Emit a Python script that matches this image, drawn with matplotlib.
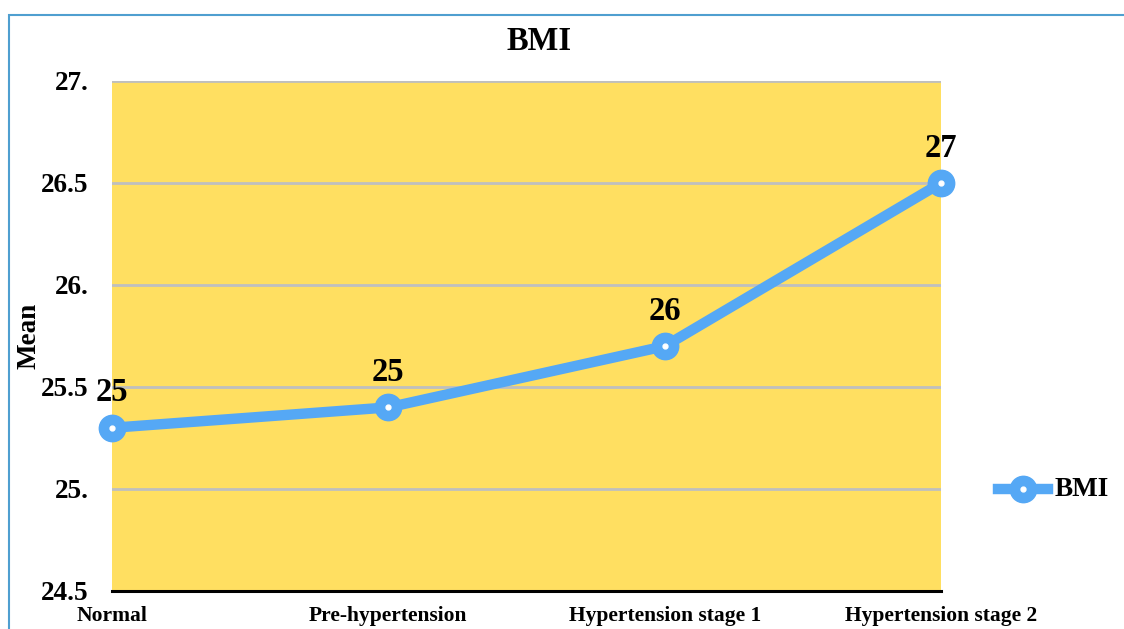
import math
import matplotlib
matplotlib.use("Agg")
from matplotlib import pyplot as plt
from matplotlib.patches import Rectangle
from matplotlib.lines import Line2D

# BMI means per blood pressure group
groups = ['Normal', 'Pre-hypertension', 'Hypertension stage 1', 'Hypertension stage 2']
bmi_mean = [25.3, 25.4, 25.7, 26.5]

y_ticks = [24.5, 25.0, 25.5, 26.0, 26.5, 27.0]
y_tick_labels = ['24.5', '25.', '25.5', '26.', '26.5', '27.']

line_color = '#55A8F5'
fill_color = '#FFDF61'
serif = ['Liberation Serif', 'DejaVu Serif']

fig = plt.figure(figsize=(11.24, 6.29), dpi=100)
ax = fig.add_axes([112 / 1124, 1 - 591 / 629, 829 / 1124, 510 / 629])
ax.set_facecolor(fill_color)

x = list(range(len(groups)))
ax.plot(x, bmi_mean, color=line_color, lw=7.5, marker='o', ms=19,
        mfc=line_color, mec=line_color, clip_on=False, zorder=4)
ax.plot(x, bmi_mean, ls='none', marker='o', ms=3.5, mfc='white', mec='white',
        clip_on=False, zorder=5)

# value labels rounded half-up
for xi, v in zip(x, bmi_mean):
    ax.annotate(str(math.floor(v + 0.5)), (xi, v), xytext=(0, 14), textcoords='offset points',
                ha='center', va='bottom', fontsize=23.5, fontweight='bold', family=serif,
                zorder=6)

ax.set_xlim(0, 3)
ax.set_ylim(24.5, 27.0)
ax.set_yticks(y_ticks)
ax.set_yticklabels(y_tick_labels, fontsize=19.5, fontweight='bold', family=serif)
ax.set_xticks(x)
ax.set_xticklabels(groups, fontsize=15.5, fontweight='bold', family=serif)
ax.tick_params(axis='both', length=0)
ax.tick_params(axis='y', pad=17)
ax.tick_params(axis='x', pad=10.5)

ax.grid(axis='y', color='#BFBFBF', lw=2)
ax.set_axisbelow(True)
for side in ['top', 'right', 'left']:
    ax.spines[side].set_visible(False)
ax.spines['bottom'].set_color('black')
ax.spines['bottom'].set_linewidth(2.2)
ax.spines['bottom'].set_zorder(3)

fig.text(539 / 1124, 1 - 41 / 629, 'BMI', ha='center', va='center',
         fontsize=23.5, fontweight='bold', family=serif)
fig.text(29 / 1124, 1 - 336 / 629, 'Mean', ha='center', va='center', rotation=90,
         fontsize=19.5, fontweight='bold', family=serif)

# legend drawn by hand at the right
fig.add_artist(Line2D([998 / 1124, 1048 / 1124], [1 - 489 / 629] * 2, color=line_color, lw=7.5,
                      transform=fig.transFigure))
fig.add_artist(Line2D([1023 / 1124], [1 - 489 / 629], ls='none', marker='o', ms=19,
                      mfc=line_color, mec=line_color, transform=fig.transFigure))
fig.add_artist(Line2D([1023 / 1124], [1 - 489 / 629], ls='none', marker='o', ms=3.5,
                      mfc='white', mec='white', transform=fig.transFigure))
fig.text(1055 / 1124, 1 - 490 / 629, 'BMI', ha='left', va='center',
         fontsize=19.5, fontweight='bold', family=serif)

# chart frame
fig.add_artist(Rectangle((8.5 / 1124, -0.05), 1.1, 1 - 14.5 / 629 + 0.05, fill=False,
                         edgecolor='#4F9FD0', lw=1.5, transform=fig.transFigure))

fig.savefig('out.png', dpi=100)
